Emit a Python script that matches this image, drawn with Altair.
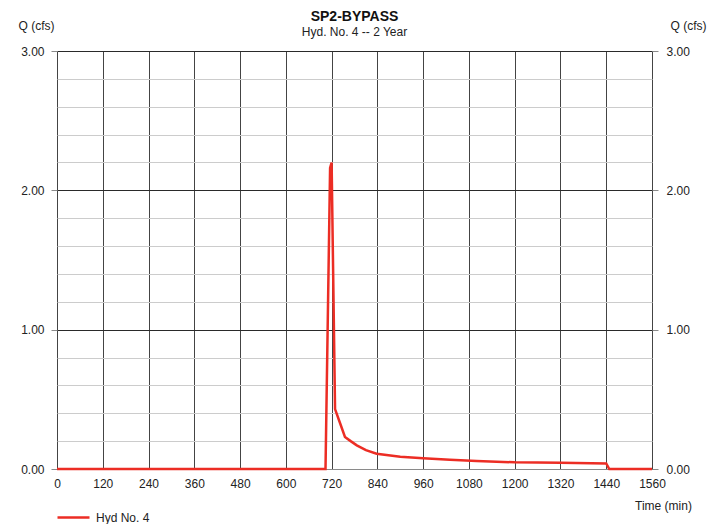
import altair as alt
import pandas as pd

# Hydrograph data (time in min, flow in cfs)
time_min = [0, 704, 716, 720, 729, 742, 755, 770, 786, 810, 838, 900, 960,
            1030, 1100, 1200, 1320, 1440, 1448, 1560]
flow_cfs = [0, 0, 2.16, 2.20, 0.43, 0.33, 0.23, 0.20, 0.17, 0.135, 0.11, 0.088,
            0.077, 0.066, 0.058, 0.048, 0.044, 0.040, 0, 0]
series_name = "Hyd No. 4"

x_ticks = [0, 120, 240, 360, 480, 600, 720, 840, 960, 1080, 1200, 1320, 1440, 1560]
y_ticks = [0, 0.2, 0.4, 0.6, 0.8, 1, 1.2, 1.4, 1.6, 1.8, 2, 2.2, 2.4, 2.6, 2.8, 3]

df = pd.DataFrame({"t": time_min, "q": flow_cfs, "s": [series_name] * len(time_min)})

FONT = "Liberation Sans"
is_major = "datum.value % 1 == 0"
label_expr = "datum.value % 1 == 0 ? format(datum.value, '.2f') : ''"

x_scale = alt.Scale(domain=[0, 1560], nice=False, zero=False)
x_axis = alt.Axis(
    values=x_ticks, format="d", grid=True, gridColor="#444444", gridWidth=1,
    ticks=False, tickSize=0, labelPadding=9, labelFontSize=12,
    labelColor="#222", domain=True, domainColor="#8a8a8a",
    labelOverlap=False, labelFlush=False,
    title="Time (min)", titleFontSize=12, titleFontWeight="normal",
    titleColor="#222", titleX=606, titleY=36, titleAlign="center",
    titleBaseline="middle",
)

left_axis = alt.Axis(
    values=y_ticks, orient="left", grid=True,
    gridColor={"condition": {"test": is_major, "value": "#2a2a2a"}, "value": "#cccccc"},
    gridWidth=1,
    tickOpacity={"condition": {"test": is_major, "value": 1}, "value": 0},
    tickColor="#8a8a8a", tickSize=6, labelPadding=7, labelFontSize=12,
    labelColor="#222", labelExpr=label_expr, labelOverlap=False, domain=False,
    title="Q (cfs)", titleAngle=0, titleFontSize=12, titleFontWeight="normal",
    titleColor="#222", titleX=-21, titleY=-26, titleAlign="center",
    titleBaseline="middle",
)

right_axis = alt.Axis(
    values=y_ticks, orient="right", grid=False,
    tickOpacity={"condition": {"test": is_major, "value": 1}, "value": 0},
    tickColor="#8a8a8a", tickSize=6, labelPadding=8, labelFontSize=12,
    labelColor="#222", labelExpr=label_expr, labelOverlap=False, domain=False,
    title="Q (cfs)", titleAngle=0, titleFontSize=12, titleFontWeight="normal",
    titleColor="#222", titleX=36, titleY=-26, titleAlign="center",
    titleBaseline="middle",
)

y_scale = alt.Scale(domain=[0, 3], nice=False, zero=True)

line = alt.Chart(df).mark_line(strokeWidth=2.5, interpolate="linear").encode(
    x=alt.X("t:Q", scale=x_scale, axis=x_axis),
    y=alt.Y("q:Q", scale=y_scale, axis=left_axis),
    color=alt.Color(
        "s:N",
        scale=alt.Scale(domain=[series_name], range=["#ec2d24"]),
        legend=alt.Legend(
            title=None, orient="none", legendX=-1, legendY=449,
            symbolType="stroke", symbolSize=1024, symbolStrokeWidth=2.5,
            labelFontSize=12, labelColor="#222", labelOffset=5, padding=0,
        ),
    ),
)

right = alt.Chart(df).mark_line(strokeOpacity=0).encode(
    x=alt.X("t:Q", scale=x_scale, axis=x_axis),
    y=alt.Y("q:Q", scale=y_scale, axis=right_axis),
)

chart = (
    alt.layer(line, right)
    .resolve_scale(y="independent")
    .properties(
        width=595,
        height=418,
        autosize=alt.AutoSizeParams(type="none"),
        padding={"left": 49, "top": 43, "right": 60, "bottom": 55},
        title=alt.Title(
            "SP2-BYPASS", subtitle="Hyd. No. 4 -- 2 Year",
            fontSize=14, fontWeight="bold", color="#111",
            subtitleFontSize=12, subtitleColor="#222",
            anchor="middle", offset=-19, subtitlePadding=3,
        ),
    )
    .configure(font=FONT)
    .configure_view(stroke=None)
)

chart.save("out.html", embed_options={"renderer": "svg", "actions": False})
